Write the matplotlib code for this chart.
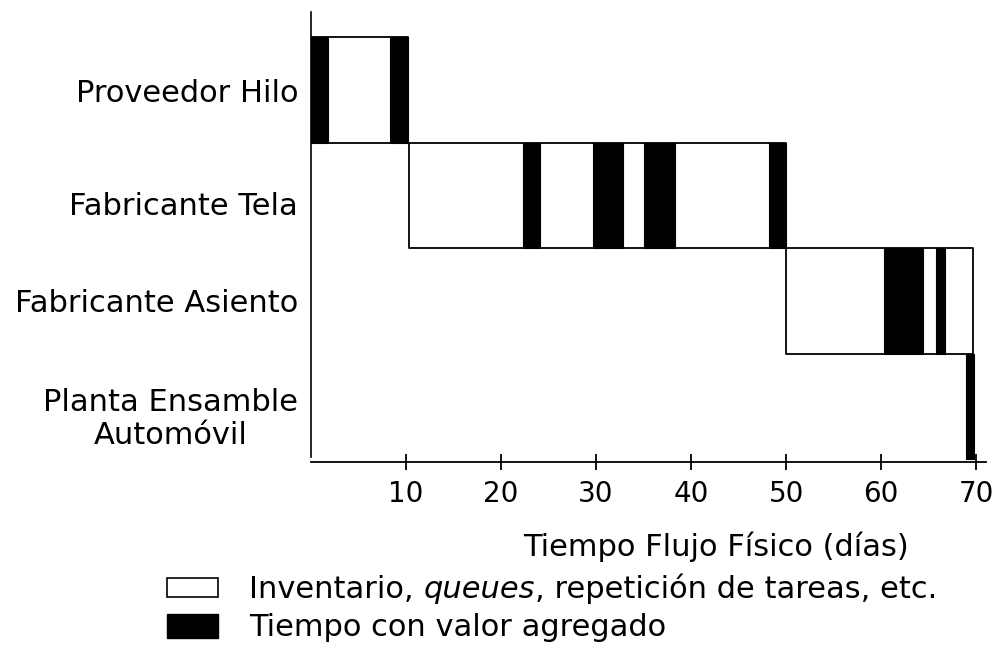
import matplotlib.pyplot as plt
from matplotlib.patches import Rectangle

# Stages, bottom row first
stages = ['Planta Ensamble\nAutomóvil', 'Fabricante Asiento', 'Fabricante Tela', 'Proveedor Hilo']

# Total span of each stage (start, length) in days - white box
inventory = [
    None,
    (50.0, 19.7),
    (10.3, 39.7),
    (0.0, 10.2),
]

# Value-added segments (start, length) in days - black bars
value_added = [
    [(68.9, 0.85)],
    [(60.3, 4.1), (65.8, 0.9)],
    [(22.3, 1.85), (29.7, 3.15), (35.1, 3.25), (48.2, 1.8)],
    [(0.0, 1.8), (8.3, 1.9)],
]

xticks = [10, 20, 30, 40, 50, 60, 70]
legend_labels = ['Inventario, ', 'queues', ', repetición de tareas, etc.']
legend_label2 = 'Tiempo con valor agregado'

# where the stage names sit (row units), slightly off the row centres
label_pos = [0.43, 1.5, 2.42, 3.5]

fig = plt.figure(figsize=(10.02, 6.49), dpi=100)
ax = fig.add_axes([0.31, 0.2881, 0.6738, 0.6934])

fs = 22

for i, stage in enumerate(stages):
    if inventory[i] is not None:
        ax.broken_barh([inventory[i]], (i, 1), facecolors='white',
                       edgecolors='black', linewidth=1.3, zorder=2)
    ax.broken_barh(value_added[i], (i, 1), facecolors='black',
                   edgecolors='black', linewidth=0.8, zorder=3)

ax.set_xlim(0, 71)
ax.set_ylim(-0.028, 4.24)
ax.set_yticks(label_pos)
ax.set_yticklabels(stages, fontsize=fs, multialignment='center')
ax.tick_params(axis='y', length=0, pad=9)
ax.set_xticks(xticks)
ax.set_xticklabels([str(t) for t in xticks], fontsize=20)
ax.tick_params(axis='x', direction='inout', length=11.5, width=1.3, pad=7)
ax.set_xlabel('Tiempo Flujo Físico (días)', fontsize=fs, labelpad=17, x=0.601)

ax.spines['top'].set_visible(False)
ax.spines['right'].set_visible(False)
ax.spines['left'].set_bounds(0.02, 4.24)
ax.spines['left'].set_linewidth(1.2)
ax.spines['bottom'].set_linewidth(1.3)

# Legend drawn by hand (mixed italic text)
fig.add_artist(Rectangle((0.1665, 1 - 597 / 649), 0.0515, 19 / 649,
                         transform=fig.transFigure, facecolor='white',
                         edgecolor='black', linewidth=1.2))
fig.add_artist(Rectangle((0.1665, 1 - 638 / 649), 0.0515, 24 / 649,
                         transform=fig.transFigure, facecolor='black',
                         edgecolor='black', linewidth=1.0))

t1 = fig.text(0.249, 1 - 590 / 649, legend_labels[0], fontsize=fs, va='center')
t2 = ax.annotate(legend_labels[1], xy=(1, 0), xycoords=t1, fontsize=fs,
                 va='bottom', style='italic', annotation_clip=False)
t3 = ax.annotate(legend_labels[2], xy=(1, 0), xycoords=t2, fontsize=fs,
                 va='bottom', annotation_clip=False)
fig.text(0.249, 1 - 628 / 649, legend_label2, fontsize=fs, va='center')

fig.savefig('out.png', dpi=100)
